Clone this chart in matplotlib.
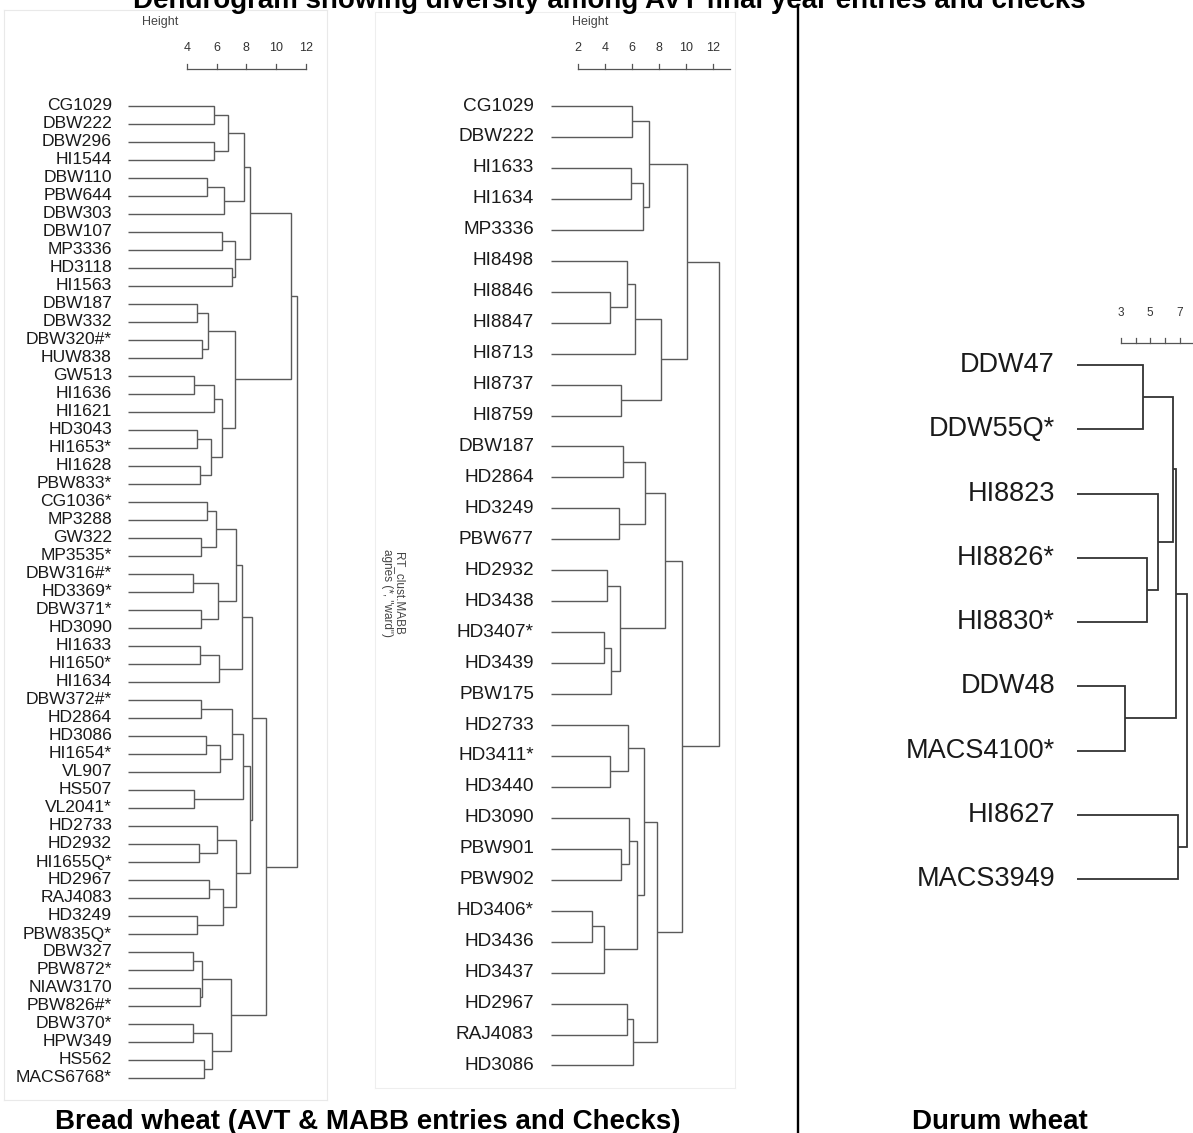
import matplotlib
matplotlib.use("Agg")
import matplotlib.pyplot as plt
from matplotlib.lines import Line2D

plt.rcParams['font.family'] = ['Liberation Sans', 'DejaVu Sans']

W, H = 1193, 1133
DPI = 100

# ---------------- data ----------------
TITLE = "Dendrogram showing diversity among AVT final year entries and checks"
CAPTION_BREAD = "Bread wheat (AVT & MABB entries and Checks)"
CAPTION_DURUM = "Durum wheat"
MABB_NOTE = 'RT_clust.MABB\nagnes (*, "ward")'

# Panel 1: AVT bread wheat entries (leaf order top to bottom)
AVT_LEAVES = ["CG1029", "DBW222", "DBW296", "HI1544", "DBW110", "PBW644", "DBW303",
              "DBW107", "MP3336", "HD3118", "HI1563", "DBW187", "DBW332", "DBW320#*",
              "HUW838", "GW513", "HI1636", "HI1621", "HD3043", "HI1653*", "HI1628",
              "PBW833*", "CG1036*", "MP3288", "GW322", "MP3535*", "DBW316#*", "HD3369*",
              "DBW371*", "HD3090", "HI1633", "HI1650*", "HI1634", "DBW372#*", "HD2864",
              "HD3086", "HI1654*", "VL907", "HS507", "VL2041*", "HD2733", "HD2932",
              "HI1655Q*", "HD2967", "RAJ4083", "HD3249", "PBW835Q*", "DBW327", "PBW872*",
              "NIAW3170", "PBW826#*", "DBW370*", "HPW349", "HS562", "MACS6768*"]
# merges: (left, right, height); str = leaf, int = earlier merge number (1-based)
AVT_MERGES = [
    ("CG1029", "DBW222", 5.83), ("DBW296", "HI1544", 5.83), (1, 2, 6.73),
    ("DBW110", "PBW644", 5.34), (4, "DBW303", 6.51), (3, 5, 7.86),
    ("DBW107", "MP3336", 6.33), ("HD3118", "HI1563", 7.00), (7, 8, 7.23),
    (6, 9, 8.24),
    ("DBW187", "DBW332", 4.64), ("DBW320#*", "HUW838", 5.00), (11, 12, 5.43),
    ("GW513", "HI1636", 4.48), (14, "HI1621", 5.83),
    ("HD3043", "HI1653*", 4.64), ("HI1628", "PBW833*", 4.86), (16, 17, 5.59),
    (15, 18, 6.33), (13, 19, 7.23),
    (10, 20, 11.0),
    ("CG1036*", "MP3288", 5.36), ("GW322", "MP3535*", 4.95), (22, 23, 5.95),
    ("DBW316#*", "HD3369*", 4.41), ("DBW371*", "HD3090", 4.95), (25, 26, 6.10),
    (24, 27, 7.30),
    ("HI1633", "HI1650*", 4.86), (29, "HI1634", 6.17), (28, 30, 7.72),
    ("DBW372#*", "HD2864", 4.95), ("HD3086", "HI1654*", 5.25), (33, "VL907", 6.22),
    (32, 34, 7.00), ("HS507", "VL2041*", 4.48), (35, 36, 7.80),
    ("HD2932", "HI1655Q*", 4.82), ("HD2733", 38, 5.99),
    ("HD2967", "RAJ4083", 5.50), ("HD3249", "PBW835Q*", 4.64), (40, 41, 6.44),
    (39, 42, 7.30), (37, 43, 8.24), (31, 44, 8.36),
    ("DBW327", "PBW872*", 4.41), ("NIAW3170", "PBW826#*", 4.86), (46, 47, 5.00),
    ("DBW370*", "HPW349", 4.41), ("HS562", "MACS6768*", 5.14), (49, 50, 5.68),
    (48, 51, 6.96), (45, 52, 9.30),
    (21, 53, 11.4),
]
AVT_TICKS = [4, 6, 8, 10, 12]

# Panel 2: MABB entries and checks
MABB_LEAVES = ["CG1029", "DBW222", "HI1633", "HI1634", "MP3336", "HI8498", "HI8846",
               "HI8847", "HI8713", "HI8737", "HI8759", "DBW187", "HD2864", "HD3249",
               "PBW677", "HD2932", "HD3438", "HD3407*", "HD3439", "PBW175", "HD2733",
               "HD3411*", "HD3440", "HD3090", "PBW901", "PBW902", "HD3406*", "HD3436",
               "HD3437", "HD2967", "RAJ4083", "HD3086"]
MABB_MERGES = [
    ("CG1029", "DBW222", 5.97), ("HI1633", "HI1634", 5.92), (2, "MP3336", 6.79),
    (1, 3, 7.25),
    ("HI8846", "HI8847", 4.33), ("HI8498", 5, 5.65), (6, "HI8713", 6.22),
    ("HI8737", "HI8759", 5.17), (7, 8, 8.12), (4, 9, 10.06),
    ("DBW187", "HD2864", 5.32), ("HD3249", "PBW677", 5.03), (11, 12, 6.98),
    ("HD2932", "HD3438", 4.11), ("HD3407*", "HD3439", 3.89), (15, "PBW175", 4.46),
    (14, 16, 5.10), (13, 17, 8.47),
    ("HD3411*", "HD3440", 4.33), ("HD2733", 19, 5.67),
    ("PBW901", "PBW902", 5.20), ("HD3090", 21, 5.77),
    ("HD3406*", "HD3436", 3.04), (23, "HD3437", 3.89), (22, 24, 6.39),
    (20, 25, 6.88),
    ("HD2967", "RAJ4083", 5.60), (27, "HD3086", 6.09), (26, 28, 7.88),
    (18, 29, 9.73), (10, 30, 12.49),
]
MABB_TICKS = [2, 4, 6, 8, 10, 12]

# Panel 3: durum wheat
DURUM_LEAVES = ["DDW47", "DDW55Q*", "HI8823", "HI8826*", "HI8830*", "DDW48",
                "MACS4100*", "HI8627", "MACS3949"]
DURUM_MERGES = [
    ("DDW47", "DDW55Q*", 4.53), ("HI8826*", "HI8830*", 4.76), ("HI8823", 2, 5.55),
    (1, 3, 6.57), ("DDW48", "MACS4100*", 3.28), (4, 5, 6.76),
    ("HI8627", "MACS3949", 6.91), (6, 7, 7.49),
]
DURUM_TICKS = [3, 4, 5, 6, 7, 8, 9]
DURUM_TICK_LABELS = [3, 5, 7]

# ---------------- drawing ----------------
fig = plt.figure(figsize=(W / DPI, H / DPI), dpi=DPI)


class Panel:
    def __init__(self, box, x0, xs, y0, ys, frame=None):
        l, t, r, b = box
        self.x0, self.xs, self.y0, self.ys = x0, xs, y0, ys
        ax = fig.add_axes([l / W, 1 - b / H, (r - l) / W, (b - t) / H])
        ax.set_xlim((l - x0) / xs, (r - x0) / xs)
        ax.set_ylim((b - y0) / ys, (t - y0) / ys)
        ax.set_xticks([])
        ax.set_yticks([])
        for sp in ax.spines.values():
            if frame:
                sp.set_color(frame)
                sp.set_linewidth(0.8)
            else:
                sp.set_visible(False)
        ax.patch.set_alpha(0)
        self.ax = ax

    def dx(self, px):
        return (px - self.x0) / self.xs

    def dy(self, py):
        return (py - self.y0) / self.ys


def draw_tree(p, leaves, merges, label_px, fs, color, lw, label_color="#1a1a1a"):
    ax = p.ax
    pos = {name: (float(i), 0.0) for i, name in enumerate(leaves)}
    nodes = []

    def get(k):
        return pos[k] if isinstance(k, str) else nodes[k - 1]

    for a, b, h in merges:
        ya, ha = get(a)
        yb, hb = get(b)
        ax.plot([ha, h, h, hb], [ya, ya, yb, yb], color=color, lw=lw,
                solid_joinstyle="miter", solid_capstyle="butt", clip_on=False)
        nodes.append(((ya + yb) / 2.0, h))

    lx = p.dx(label_px)
    for i, name in enumerate(leaves):
        ax.text(lx, i, name, ha="right", va="center", fontsize=fs,
                color=label_color, clip_on=False)


def draw_scale(p, ticks, labels, x_end, bar_px, tick_len_px, label_px, fs,
               height_label=None, color="#555555"):
    ax = p.ax
    yb = p.dy(bar_px)
    yt = p.dy(bar_px - tick_len_px)
    ax.plot([ticks[0], x_end], [yb, yb], color=color, lw=0.9, clip_on=False)
    for t in ticks:
        ax.plot([t, t], [yb, yt], color=color, lw=0.9, clip_on=False)
    for t in labels:
        ax.text(t, p.dy(label_px), str(t), ha="center", va="center", fontsize=fs,
                color="#333333", clip_on=False)
    if height_label:
        hx, hy = height_label
        ax.text(p.dx(hx), p.dy(hy), "Height", ha="center", va="center",
                fontsize=9, color="#444444", clip_on=False)


# Panel 1
p1 = Panel((4, 10, 327, 1100), x0=128, xs=14.8, y0=106, ys=18.0, frame="#e9e9e9")
draw_tree(p1, AVT_LEAVES, AVT_MERGES, label_px=112, fs=12.6, color="#5a5a5a", lw=1.0)
draw_scale(p1, AVT_TICKS, AVT_TICKS, AVT_TICKS[-1], bar_px=69, tick_len_px=5,
           label_px=48, fs=9, height_label=(160, 22))

# Panel 2
p2 = Panel((375, 12, 735, 1088), x0=551.4, xs=13.45, y0=106, ys=30.95, frame="#eeeeee")
draw_tree(p2, MABB_LEAVES, MABB_MERGES, label_px=534, fs=13.7, color="#5a5a5a", lw=1.0)
draw_scale(p2, MABB_TICKS, MABB_TICKS, 13.28, bar_px=69, tick_len_px=5,
           label_px=48, fs=9, height_label=(590, 22))
p2.ax.text(p2.dx(393), p2.dy(593), MABB_NOTE, rotation=-90, ha="center", va="center",
           fontsize=8.5, color="#444444", linespacing=1.0, clip_on=False)

# Panel 3
p3 = Panel((880, 280, 1210, 920), x0=1077, xs=14.65, y0=365, ys=64.25)
draw_tree(p3, DURUM_LEAVES, DURUM_MERGES, label_px=1055, fs=19.5, color="#333333", lw=1.3)
draw_scale(p3, DURUM_TICKS, DURUM_TICK_LABELS, 10.5, bar_px=343, tick_len_px=5,
           label_px=313, fs=8.5)

# divider line
fig.add_artist(Line2D([797.8 / W, 797.8 / W], [1 - 7 / H, 0], transform=fig.transFigure,
                      color="black", lw=1.7))

# title (partly cut by the top edge, as in the reference) and captions
fig.text(609 / W, 1 - 8 / H, TITLE, ha="center", va="baseline", fontsize=20,
         fontweight="bold", color="black")
fig.text(367.5 / W, 1 - 1129 / H, CAPTION_BREAD, ha="center", va="baseline",
         fontsize=20, fontweight="bold", color="black")
fig.text(1000 / W, 1 - 1129 / H, CAPTION_DURUM, ha="center", va="baseline",
         fontsize=20, fontweight="bold", color="black")

fig.savefig("out.png", dpi=DPI)
